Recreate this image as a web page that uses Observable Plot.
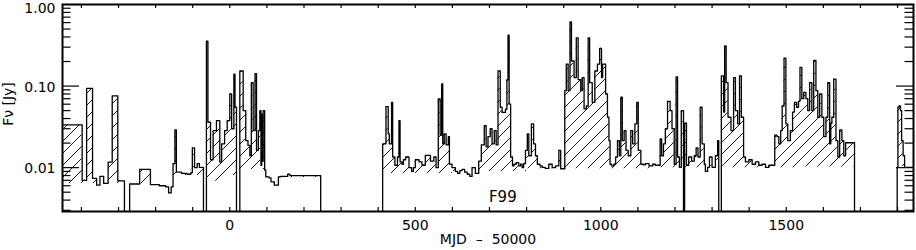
<!DOCTYPE html>
<html>
<head>
<meta charset="utf-8">
<script src="https://cdn.jsdelivr.net/npm/d3@7"></script>
<script src="https://cdn.jsdelivr.net/npm/@observablehq/plot@0.6"></script>
<style>
  html, body { margin: 0; padding: 0; background: white; }
  #chart { width: 916px; height: 250px; }
</style>
</head>
<body>
<div id="chart"></div>
<script>
// Light curve: bin start (MJD - 50000) and flux density (Jy); 0 = no data
const mjd = [
  -451,-398,-386,-370,-359,-350,-340,-328,-317,-302,-284,
  -270,-243,-214,-190,-173,-165,-158,-153,-148,-144,-130,-115,-105,-101,-95,-88,-82,-71,
  -63,-59,-52,-45,-36,-27,-22,-14,-7,0,5,11,14,18,
  27,36,43,49,54,58,63,68,72,77,81,84,86,88,90,94,97,106,111,120,131,137,156,162,172,245,
  412,421,427,430,436,439,445,452,456,459,464,468,474,483,490,495,500,510,518,527,541,550,556,
  562,567,571,574,578,583,589,592,599,608,614,620,626,633,640,647,653,662,671,678,686,691,696,
  702,707,713,718,723,729,734,743,747,750,753,757,762,766,772,779,784,788,792,797,802,806,813,
  819,824,829,836,842,850,860,869,878,887,892,903,907,912,917,921,928,934,939,946,950,955,961,
  966,970,977,984,991,997,1002,1005,1013,1018,1022,1025,1029,1035,1040,1045,1050,1054,1058,1063,
  1068,1074,1081,1086,1092,1097,1101,1108,1115,1120,1130,1140,1147,1160,1164,1169,1174,1180,1187,
  1192,1198,1203,1207,1212,1217,1223,
  1226,1231,1237,1245,1252,1257,1262,1268,1273,1279,1282,1288,1293,1300,1309,1315,1318,
  1325,1331,1334,1338,1343,1351,1358,1363,1369,1374,1379,1385,1390,1399,1408,1417,1426,1435,1444,
  1453,1469,1475,1480,1485,1489,1494,1499,1504,1511,1517,1522,1528,1533,1537,1542,1547,1553,1558,
  1563,1569,1574,1580,1585,1590,1596,1601,1607,1612,1617,1620,1623,1628,1634,1639,1644,1650,1655,
  1660,1684,
  1799,1801,1804,1808,1811,1815,1819,1843
];
const flux = [
  0.0334,0.0070,0.0935,0.0074,0.0061,0.0078,0.0064,0.0117,0.076,0.0069,0,
  0.0063,0.0095,0.0062,0.0060,0.0058,0.0049,0.0058,0.0112,0.029,0.0088,0.0085,0.0083,0.0087,0.0175,0.0100,0.0112,0.0101,0,
  0.356,0.036,0.0125,0.0285,0.0377,0.0117,0.0196,0.0285,0.0377,0.080,0.030,0.140,0.055,0,
  0.153,0.050,0.0215,0.0187,0.014,0.110,0.0285,0.142,0.0163,0.0285,0.050,0.0107,0.045,0.012,0.050,0.0093,0.0077,0.0075,0.0067,0.0061,0.0077,0.0078,0.0083,0.0080,0.0080,0,
  0.0196,0.056,0.026,0.0196,0.063,0.0135,0.0107,0.0135,0.0377,0.0118,0.0110,0.0125,0.0135,0.0100,0.0090,0.0100,0.0125,0.0118,0.0107,0.0141,0.0120,0.0135,0.0100,
  0.0694,0.025,0.106,0.0196,0.026,0.019,0.024,0.011,0.0100,0.0090,0.0085,0.0092,0.0095,0.0088,0.0083,0.0078,0.0100,0.0085,0.0120,0.019,0.0328,0.018,0.024,
  0.030,0.0196,0.0285,0.019,0.153,0.055,0.0475,0.052,0.12,0.42,0.06,0.0135,0.0105,0.011,0.0115,0.0105,0.011,0.0100,0.0112,0.0163,0.026,0.014,0.0345,
  0.0196,0.014,0.011,0.0105,0.0101,0.0098,0.011,0.0100,0.0105,0.0163,0.0097,0.0877,0.186,0.0877,0.61,0.203,0.127,0.39,0.12,0.0877,0.127,0.0525,0.057,
  0.39,0.11,0.063,0.153,0.186,0.29,0.127,0.186,0.08,0.0415,0.0215,0.011,0.0105,0.011,0.0135,0.0215,0.014,0.073,0.0215,0.0285,
  0.0163,0.014,0.0285,0.0196,0.0345,0.063,0.0163,0.011,0.0108,0.0112,0.0105,0.011,0.0107,0.0225,0.014,0.0196,0.030,0.065,0.050,
  0.030,0.011,0.130,0.0135,0.0101,0.050,0,
  0.035,0.0107,0.0135,0.012,0.014,0.0175,0.0135,0.055,0.0196,0.011,0.009,0.0101,0.0135,0.0101,0.014,0.0215,0,
  0.133,0.048,0.31,0.11,0.0415,0.0285,0.127,0.05,0.0345,0.133,0.0415,0.0135,0.0118,0.0125,0.011,0.0118,0.0107,0.011,0.0101,
  0.0107,0.025,0.024,0.0196,0.0285,0.057,0.22,0.0345,0.0215,0.0285,0.048,0.063,0.055,0.065,0.17,0.07,0.0835,0.07,0.05,
  0.11,0.05,0.207,0.0877,0.0415,0.08,0.0415,0.024,0.0415,0.11,0.0196,0.035,0.0415,0.122,0.0215,0.0135,0.029,0.0215,0.014,
  0.0202,0,
  0.0101,0.055,0.057,0.05,0.0215,0.014,0.0101,0.0101
];
// Quiescent baseline (start MJD, level in Jy); 0 = none
const baseMjd  = [-451, -284, -270, -153, -71, -63, -20, 18, 27, 100, 245, 412, 600, 800, 1147, 1540, 1684, 1799];
const baseFlux = [0.0064, 0, 0.0063, 0.0080, 0, 0.0068, 0.0080, 0, 0.0095, 0.0075, 0, 0.0085, 0.0090, 0.0097, 0.0100, 0.0102, 0, 0.0103];

const xTickValues = d3.range(-400, 1801, 100);
const xTickLabels = [0, 500, 1000, 1500];
const yMajor = [0.01, 0.1, 1];
const yMinor = [0.003,0.004,0.005,0.006,0.007,0.008,0.009,0.02,0.03,0.04,0.05,0.06,0.07,0.08,0.09,0.2,0.3,0.4,0.5,0.6,0.7,0.8,0.9];
const notes = [{text: "F99", mjd: 736, flux: 0.0044}];
const xTitle = "MJD\u2007–\u200750000";
const yTitle = "Fν [Jy]";

// build step table
const GAP = 1e-5;
function stepAt(xs, vs, x) { let v = vs[0]; for (let i = 0; i < xs.length; i++) { if (xs[i] <= x) v = vs[i]; else break; } return v; }
const allX = Array.from(new Set([...mjd, ...baseMjd])).sort((a, b) => a - b);
const table = allX.map(x => {
  const f = stepAt(mjd, flux, x), b = stepAt(baseMjd, baseFlux, x);
  const fy = f > 0 ? f : GAP;
  let base, top;
  if (f <= 0 || b <= 0) { base = fy; top = fy; } else { base = b; top = Math.max(f, b); }
  return {mjd: x, flux: fy, base, top};
});

const W = 916, H = 250, ML = 62, MR = 3, MT = 4, MB = 39;
const FW = W - ML - MR, FH = H - MT - MB;
const fmt = d3.format(".2f");

const chart = Plot.plot({
  width: W, height: H,
  marginLeft: ML, marginRight: MR, marginTop: MT, marginBottom: MB,
  style: {fontFamily: "DejaVu Sans", fontSize: "14px", background: "white", color: "black"},
  x: {domain: [-451, 1843], label: null, axis: null},
  y: {type: "log", domain: [0.0029, 1], label: null, axis: null},
  marks: [
    Plot.areaY(table, {x: "mjd", y1: "base", y2: "top", curve: "step-after", fill: "url(#hatch)", clip: true}),
    Plot.line(table, {x: "mjd", y: "flux", curve: "step-after", stroke: "black", strokeWidth: 1.3, clip: true}),
    Plot.text(notes, {x: "mjd", y: "flux", text: "text", fontSize: 15}),
    // x ticks (bottom & top, inward)
    Plot.tickX(xTickValues, {x: d => d, insetTop: FH - 4, stroke: "black", strokeWidth: 1.2}),
    Plot.tickX(xTickValues, {x: d => d, insetBottom: FH - 4, stroke: "black", strokeWidth: 1.2}),
    // y ticks (left & right, inward)
    Plot.tickY(yMajor, {y: d => d, insetRight: FW - 17, stroke: "black", strokeWidth: 1.2}),
    Plot.tickY(yMinor, {y: d => d, insetRight: FW - 8.5, stroke: "black", strokeWidth: 1.2}),
    Plot.tickY(yMajor, {y: d => d, insetLeft: FW - 17, stroke: "black", strokeWidth: 1.2}),
    Plot.tickY(yMinor, {y: d => d, insetLeft: FW - 8.5, stroke: "black", strokeWidth: 1.2}),
    // tick labels
    Plot.text(xTickLabels, {x: d => d, frameAnchor: "bottom", lineAnchor: "top", dy: 9, text: d => String(d), fontSize: 14}),
    Plot.text(yMajor.filter(d => d < 1), {y: d => d, frameAnchor: "left", textAnchor: "end", dx: -7, dy: 1, text: d => fmt(d), fontSize: 14}),
    Plot.text(yMajor.filter(d => d >= 1), {y: d => d, frameAnchor: "left", textAnchor: "end", dx: -7, dy: 4, text: d => fmt(d), fontSize: 14}),
    // axis titles
    Plot.text([xTitle], {frameAnchor: "bottom", dy: 32, text: d => d, fontSize: 14}),
    Plot.text([yTitle], {frameAnchor: "left", textAnchor: "middle", rotate: -90, dx: -54, dy: -4, text: d => d, fontSize: 14}),
    Plot.frame({stroke: "black", strokeWidth: 2})
  ]
});

d3.select(chart).insert("defs", ":first-child").html(
  '<pattern id="hatch" patternUnits="userSpaceOnUse" width="12" height="12">' +
  '<path d="M-3,3 L3,-3 M0,12 L12,0 M9,15 L15,9" stroke="black" stroke-width="0.9" fill="none"/></pattern>'
);
document.getElementById("chart").appendChild(chart);
</script>
</body>
</html>
